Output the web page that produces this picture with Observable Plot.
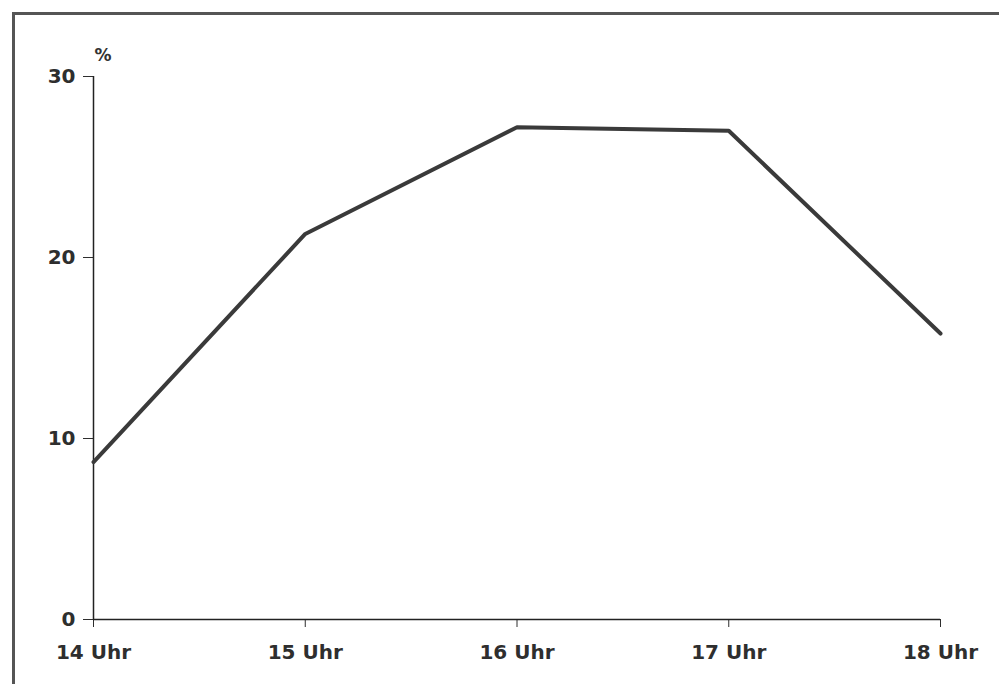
<!DOCTYPE html>
<html>
<head>
<meta charset="utf-8">
<script src="https://cdn.jsdelivr.net/npm/d3@7"></script>
<script src="https://cdn.jsdelivr.net/npm/@observablehq/plot@0.6"></script>
<style>
  html, body { margin: 0; padding: 0; background: #fff; }
  #wrap { position: relative; width: 999px; height: 684px; overflow: hidden; }
  #frame { position: absolute; left: 12px; top: 12px; width: 1000px; height: 700px;
           border-top: 3px solid #555; border-left: 3px solid #555; pointer-events: none; }
  #chart { position: absolute; left: 0; top: 0; }
</style>
</head>
<body>
<div id="wrap"><div id="chart"></div><div id="frame"></div></div>
<script>
const hours = [14, 15, 16, 17, 18];
const share = [8.7, 21.3, 27.2, 27.0, 15.8];
const yTicks = [0, 10, 20, 30];
const unitLabel = "%";

const data = hours.map((h, i) => ({hour: h, value: share[i]}));

const chart = Plot.plot({
  width: 999,
  height: 684,
  marginLeft: 93,
  marginRight: 59,
  marginTop: 76,
  marginBottom: 65,
  style: {fontFamily: "'DejaVu Sans', sans-serif", fontSize: "20px", fontWeight: "bold", color: "#2e2e2e", background: "transparent"},
  x: {domain: [14, 18]},
  y: {domain: [0, 30]},
  marks: [
    Plot.axisX({ticks: hours, tickFormat: d => d + " Uhr", tickSize: 8, tickPadding: 17, label: null, fontSize: 20}),
    Plot.axisY({ticks: yTicks, tickSize: 10, tickPadding: 8, label: null, fontSize: 20}),
    Plot.ruleX([14], {stroke: "#222", strokeWidth: 1.5}),
    Plot.ruleY([0], {stroke: "#222", strokeWidth: 1.5}),
    Plot.text([unitLabel], {frameAnchor: "top-left", dx: 1, dy: -28, fontSize: 17, fontWeight: "bold", fill: "#333"}),
    Plot.line(data, {x: "hour", y: "value", stroke: "#3a3a3a", strokeWidth: 4, strokeLinejoin: "round"})
  ]
});
document.getElementById("chart").appendChild(chart);
</script>
</body>
</html>
